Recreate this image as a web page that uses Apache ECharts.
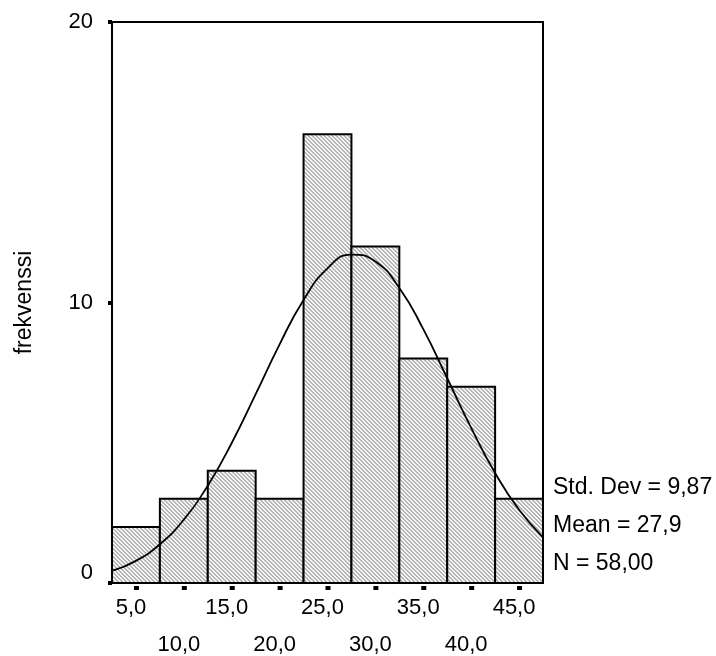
<!DOCTYPE html>
<html>
<head>
<meta charset="utf-8">
<script src="https://cdn.jsdelivr.net/npm/echarts@6/dist/echarts.min.js"></script>
<style>
  html, body { margin: 0; padding: 0; background: #fff; }
  #hist { width: 716px; height: 656px; }
</style>
</head>
<body>
<div id="hist"></div>
<script>
// bin centres and counts
var binCenters = [5, 10, 15, 20, 25, 30, 35, 40, 45];
var binCounts = [2, 3, 4, 3, 16, 12, 8, 7, 3];
var binWidth = 5;

// normal curve
var curveX = [2.5, 5, 7.5, 10, 12.5, 15, 17.5, 20, 22.5, 25, 27.5, 30, 32.5, 35, 37.5, 40, 42.5, 45, 47.5];
var curveY = [0.43, 0.79, 1.38, 2.26, 3.47, 4.99, 6.73, 8.51, 10.09, 11.22, 11.71, 11.46, 10.52, 9.05, 7.30, 5.53, 3.92, 2.61, 1.63];

var yTicks = [0, 10, 20];
var statLines = ['Std. Dev = 9,87', 'Mean = 27,9', 'N = 58,00'];

function drawHistogram() {
    var dom = document.getElementById("hist");
    var myChart = echarts.init(dom);
    var option = null;

    // hatch fill like the SPSS bars
    var pat = document.createElement('canvas');
    pat.width = 4; pat.height = 4;
    var ctx = pat.getContext('2d');
    ctx.fillStyle = '#f6f6f6';
    ctx.fillRect(0, 0, 4, 4);
    ctx.fillStyle = '#b4b4b4';
    for (var i = 0; i < 4; i++) {
        ctx.fillRect(i, i, 1, 1);
        ctx.fillRect((i + 1) % 4, i, 1, 1);
    }

    var barData = binCenters.map(function (c, i) { return [c, binCounts[i]]; });
    var lineData = curveX.map(function (x, i) { return [x, curveY[i]]; });

    var font = 'Liberation Sans, Arial, sans-serif';

    option = {
        animation: false,
        grid: {
            left: 112, right: 173, top: 22, bottom: 73,
            show: true, borderColor: '#000', borderWidth: 2
        },
        xAxis: {
            type: 'value',
            min: 2.5, max: 47.5,
            interval: 5,
            splitLine: { show: false },
            axisLine: { lineStyle: { color: '#000', width: 2 } },
            axisTick: { show: false },
            axisLabel: { show: false }
        },
        yAxis: {
            type: 'value',
            min: 0, max: 20, interval: 10,
            name: 'frekvenssi',
            nameLocation: 'middle',
            nameGap: 76,
            nameTextStyle: { fontFamily: font, fontSize: 23, color: '#000' },
            splitLine: { show: false },
            axisLine: { show: true, lineStyle: { color: '#000', width: 2 } },
            axisTick: { show: true, length: 4, lineStyle: { color: '#000', width: 4 } },
            axisLabel: {
                margin: 19,
                fontFamily: font, fontSize: 22, color: '#000',
                formatter: function (v) {
                    return v === 0 ? '{z|0}' : String(v);
                },
                rich: { z: { fontFamily: font, fontSize: 22, color: '#000', padding: [0, 0, 20, 0] } }
            }
        },
        series: [
            {
                type: 'custom',
                data: barData,
                z: 2,
                renderItem: function (params, api) {
                    var c = api.value(0), h = api.value(1);
                    var p0 = api.coord([c - binWidth / 2, h]);
                    var p1 = api.coord([c + binWidth / 2, 0]);
                    return {
                        type: 'rect',
                        shape: { x: p0[0], y: p0[1], width: p1[0] - p0[0], height: p1[1] - p0[1] },
                        style: { fill: { image: pat, repeat: 'repeat' }, stroke: '#000', lineWidth: 2 }
                    };
                }
            },
            {
                // tick marks and alternating labels under the bins
                type: 'custom',
                data: barData,
                z: 3,
                renderItem: function (params, api) {
                    var c = api.value(0);
                    var p = api.coord([c, 0]);
                    var lower = (params.dataIndex % 2 === 1);
                    return {
                        type: 'group',
                        children: [
                            { type: 'rect', shape: { x: p[0] - 2, y: p[1] + 3, width: 5, height: 4 }, style: { fill: '#000' } },
                            {
                                type: 'text',
                                style: {
                                    text: c.toFixed(1).replace('.', ','),
                                    x: p[0] - 5, y: p[1] + (lower ? 62 : 25),
                                    align: 'center', verticalAlign: 'middle',
                                    font: '22px ' + font, fill: '#000'
                                }
                            }
                        ]
                    };
                }
            },
            {
                type: 'line',
                data: lineData,
                smooth: true,
                showSymbol: false,
                z: 4,
                lineStyle: { color: '#000', width: 1.8 }
            }
        ],
        graphic: statLines.map(function (t, i) {
            return {
                type: 'text',
                left: 553, top: 476 + i * 38,
                style: { text: t, font: '23px ' + font, fill: '#000' }
            };
        })
    };

    if (option && typeof option === "object") {
        myChart.setOption(option, true);
    }
}

drawHistogram();
</script>
</body>
</html>
